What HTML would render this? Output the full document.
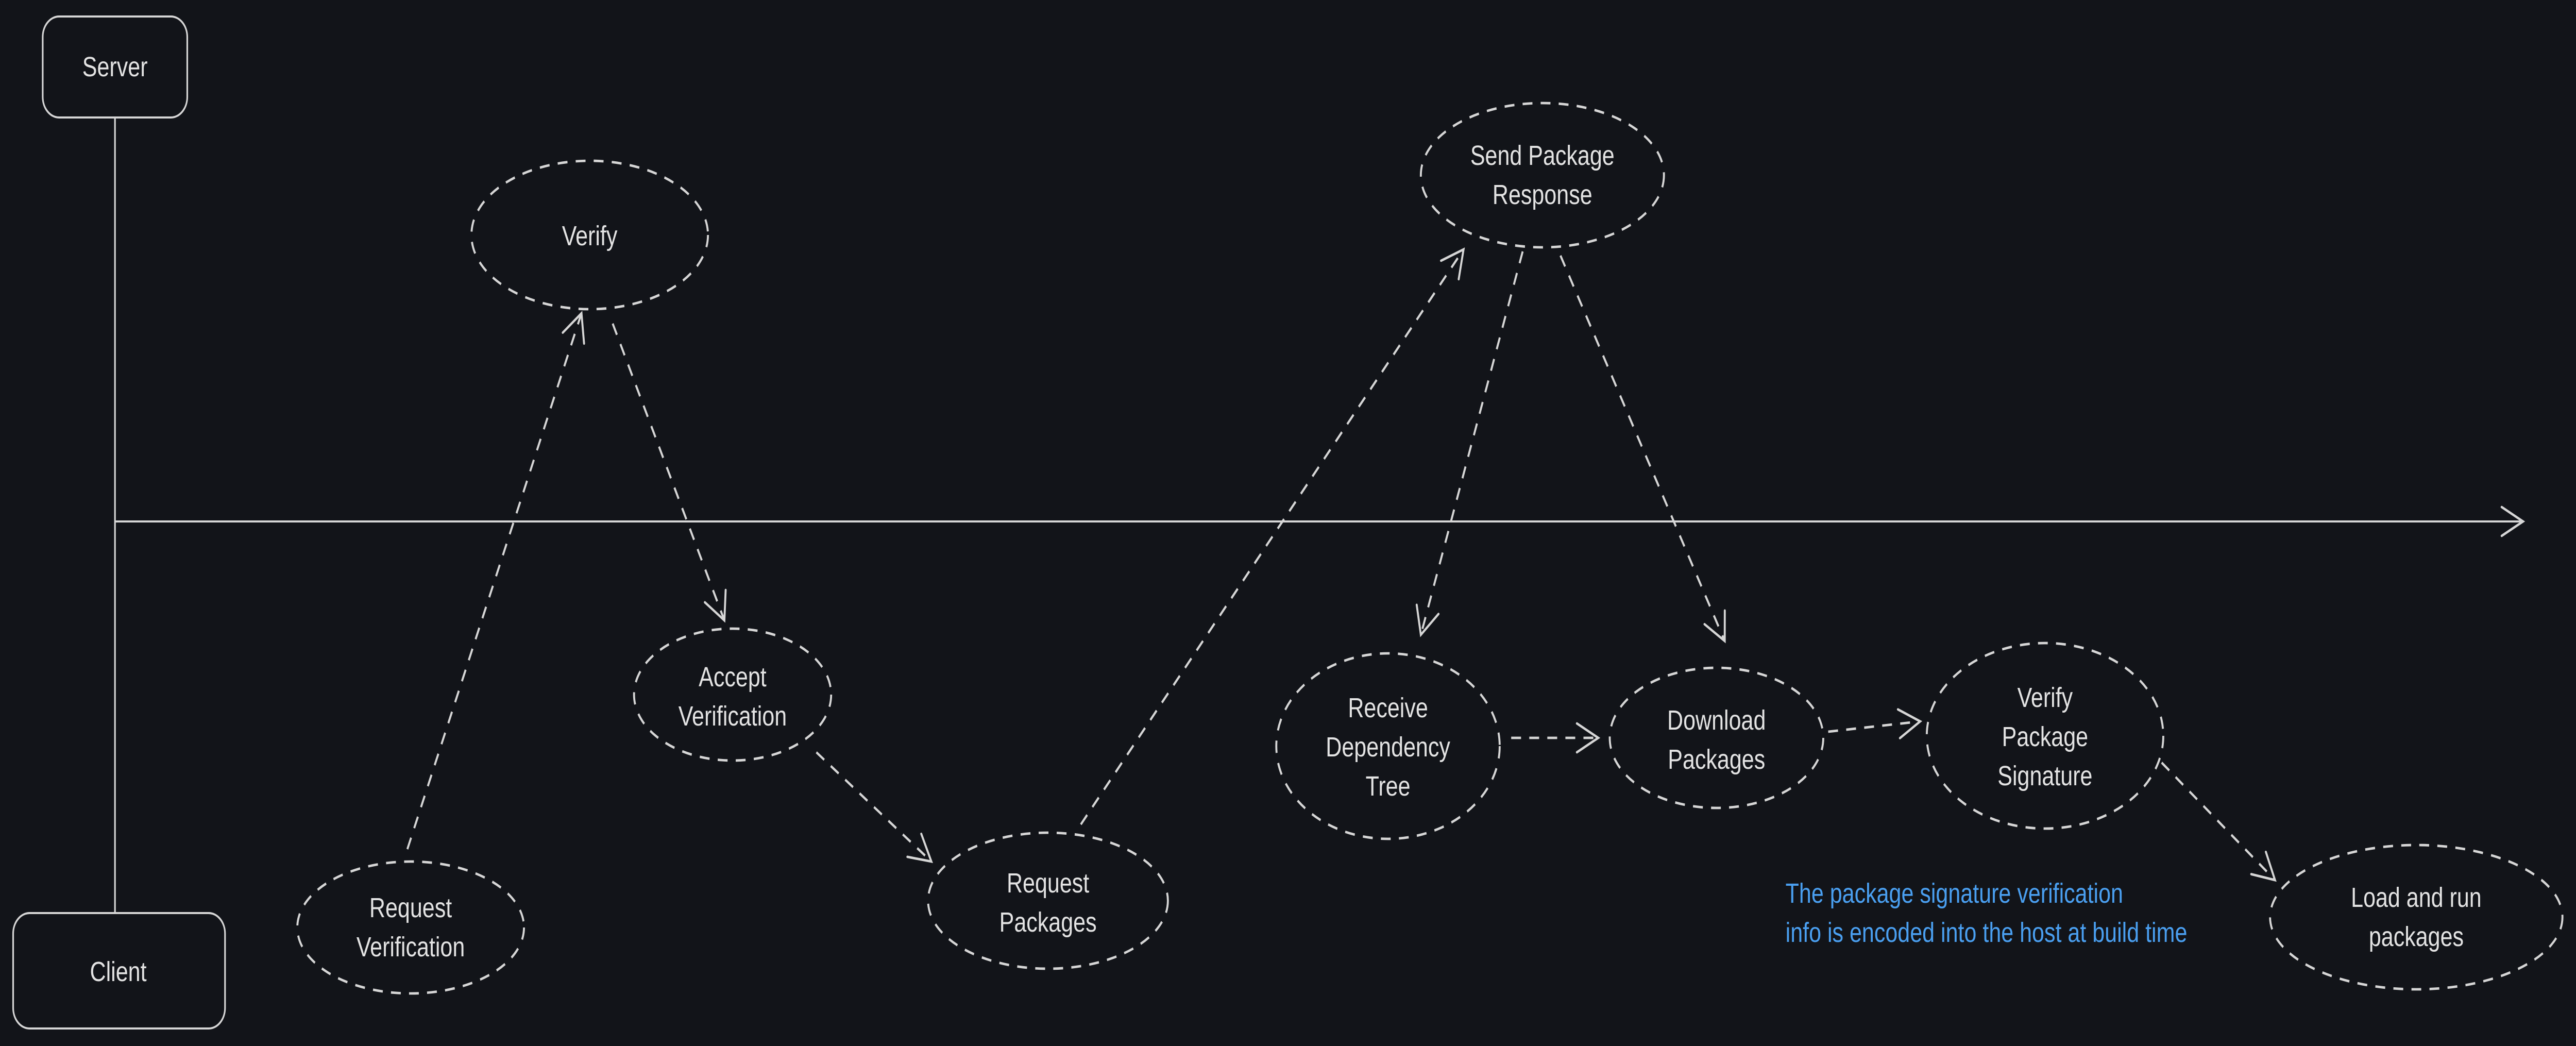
<!DOCTYPE html>
<html><head><meta charset="utf-8"><style>
html,body{margin:0;padding:0;background:#121419;overflow:hidden;width:100vw;height:100vh;}
svg{display:block;position:absolute;left:0;top:0;width:100vw;height:100vh;}
text{font-family:"Liberation Sans",sans-serif;fill:#e3e3e3;font-size:13.5px;text-anchor:middle;}
</style></head><body>
<svg viewBox="0 0 1568.25 507.5" preserveAspectRatio="none" xmlns="http://www.w3.org/2000/svg">
<defs>
<marker id="a" markerUnits="userSpaceOnUse" markerWidth="30" markerHeight="30" refX="15" refY="15" orient="auto">
<path d="M2,8 L15,15 L2,22" fill="none" stroke="#d6d6d6" stroke-width="1.2" stroke-linecap="round"/>
</marker>
</defs>
<rect width="1568.25" height="507.5" fill="#121419"/>
<g fill="none" stroke="#d6d6d6" stroke-width="1">
<rect x="26" y="8" width="88" height="49" rx="10"/>
<rect x="8" y="443" width="129" height="56" rx="10"/>
<line x1="70" y1="57" x2="70" y2="443"/>
<line x1="70" y1="253" x2="1536" y2="253" marker-end="url(#a)"/>
</g>
<g fill="none" stroke="#d6d6d6" stroke-width="1.2" stroke-dasharray="6 5">
<ellipse cx="359" cy="114" rx="72" ry="36"/>
<ellipse cx="446" cy="337" rx="60" ry="32"/>
<ellipse cx="250" cy="450" rx="69" ry="32"/>
<ellipse cx="638" cy="437" rx="73" ry="33"/>
<ellipse cx="939" cy="85" rx="74" ry="35"/>
<ellipse cx="845" cy="362" rx="68" ry="45"/>
<ellipse cx="1045" cy="358" rx="65" ry="34"/>
<ellipse cx="1245" cy="357" rx="72" ry="45"/>
<ellipse cx="1471" cy="445" rx="89" ry="35"/>
<line x1="248" y1="412" x2="354" y2="152" marker-end="url(#a)"/>
<line x1="373" y1="157" x2="441" y2="301" marker-end="url(#a)"/>
<line x1="497" y1="365" x2="567" y2="418" marker-end="url(#a)"/>
<line x1="658" y1="400" x2="891" y2="121" marker-end="url(#a)"/>
<line x1="927" y1="122" x2="865" y2="308" marker-end="url(#a)"/>
<line x1="950" y1="124" x2="1050" y2="311" marker-end="url(#a)"/>
<line x1="920" y1="358" x2="973" y2="358" marker-end="url(#a)"/>
<line x1="1113" y1="355" x2="1169" y2="350" marker-end="url(#a)"/>
<line x1="1316" y1="370" x2="1385" y2="427" marker-end="url(#a)"/>
</g>
<text x="70" y="37">Server</text>
<text x="72" y="476">Client</text>
<text x="359" y="119">Verify</text>
<text x="446" y="333">Accept</text><text x="446" y="352">Verification</text>
<text x="250" y="445">Request</text><text x="250" y="464">Verification</text>
<text x="638" y="433">Request</text><text x="638" y="452">Packages</text>
<text x="939" y="80">Send Package</text><text x="939" y="99">Response</text>
<text x="845" y="348">Receive</text><text x="845" y="367">Dependency</text><text x="845" y="386">Tree</text>
<text x="1045" y="354">Download</text><text x="1045" y="373">Packages</text>
<text x="1245" y="343">Verify</text><text x="1245" y="362">Package</text><text x="1245" y="381">Signature</text>
<text x="1471" y="440">Load and run</text><text x="1471" y="459">packages</text>
<text x="1087" y="438" style="text-anchor:start;fill:#4a9ff0">The package signature verification</text>
<text x="1087" y="457" style="text-anchor:start;fill:#4a9ff0">info is encoded into the host at build time</text>
</svg>
</body></html>
